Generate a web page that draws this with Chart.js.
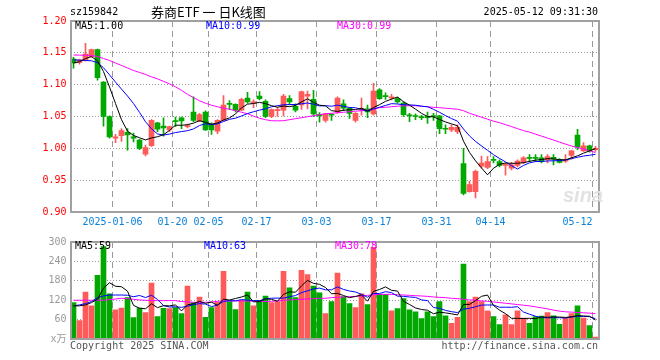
<!DOCTYPE html>
<html><head><meta charset="utf-8">
<script src="https://cdn.jsdelivr.net/npm/chart.js@4"></script>
<style>
html,body{margin:0;padding:0;background:#fff;}
#wrap{position:relative;width:660px;height:360px;overflow:hidden;font-family:"DejaVu Sans Mono",monospace;font-size:10px;background:#fff;}
canvas{position:absolute;left:0;}
.t{position:absolute;white-space:pre;line-height:12px;font-size:10px;}
</style></head><body>
<div id="wrap">
<canvas id="pc" width="660" height="232" style="top:0"></canvas>
<canvas id="vc" width="660" height="128" style="top:232px"></canvas>
<div class="t" style="left:70px;top:6px;color:#000">sz159842</div>
<div class="t" style="left:151px;top:4px;line-height:16px;font-size:13px;font-family:'Noto Sans CJK SC',sans-serif;color:#000">券商ETF 一 日K线图</div>
<div class="t" style="right:62px;top:6px;color:#000">2025-05-12 09:31:30</div>
<div class="t" id="l5" style="left:75px;top:20px;color:#000"></div>
<div class="t" id="l10" style="left:206px;top:20px;color:#0000ff"></div>
<div class="t" id="l30" style="left:337px;top:20px;color:#ff00ff"></div>
<div class="t" id="v5" style="left:75px;top:240px;color:#000"></div>
<div class="t" id="v10" style="left:204px;top:240px;color:#0000ff"></div>
<div class="t" id="v30" style="left:335px;top:240px;color:#ff00ff"></div>
<div class="t" style="left:563px;top:184px;line-height:20px;font:italic bold 20px 'Liberation Sans',sans-serif;color:#e2e2e2">sina</div>
<div class="t" style="left:70px;top:340px;color:#555">Copyright 2025 SINA.COM</div>
<div class="t" style="right:62px;top:340px;color:#555">http://finance.sina.com.cn</div>
</div>
<script>
const dates = ['2024-12-25','2024-12-26','2024-12-27','2024-12-30','2024-12-31','2025-01-02','2025-01-03','2025-01-06','2025-01-07','2025-01-08',
'2025-01-09','2025-01-10','2025-01-13','2025-01-14','2025-01-15','2025-01-16','2025-01-17','2025-01-20','2025-01-21','2025-01-22',
'2025-01-23','2025-01-24','2025-01-27','2025-02-05','2025-02-06','2025-02-07','2025-02-10','2025-02-11','2025-02-12','2025-02-13',
'2025-02-14','2025-02-17','2025-02-18','2025-02-19','2025-02-20','2025-02-21','2025-02-24','2025-02-25','2025-02-26','2025-02-27',
'2025-02-28','2025-03-03','2025-03-04','2025-03-05','2025-03-06','2025-03-07','2025-03-10','2025-03-11','2025-03-12','2025-03-13',
'2025-03-14','2025-03-17','2025-03-18','2025-03-19','2025-03-20','2025-03-21','2025-03-24','2025-03-25','2025-03-26','2025-03-27',
'2025-03-28','2025-03-31','2025-04-01','2025-04-02','2025-04-03','2025-04-07','2025-04-08','2025-04-09','2025-04-10','2025-04-11',
'2025-04-14','2025-04-15','2025-04-16','2025-04-17','2025-04-18','2025-04-21','2025-04-22','2025-04-23','2025-04-24','2025-04-25',
'2025-04-28','2025-04-29','2025-04-30','2025-05-06','2025-05-07','2025-05-08','2025-05-09','2025-05-12'];
const tickDates = ['2025-01-06','2025-01-20','2025-02-05','2025-02-17','2025-03-03','2025-03-17','2025-03-31','2025-04-14','2025-05-12'];
const tickText = ['2025-01-06','01-20','02-05','02-17','03-03','03-17','03-31','04-14','05-12     '];
const priceTicks = [0.90,0.95,1.00,1.05,1.10,1.15,1.20];
const volTicks = [0,60,120,180,240,300];
const volUnit = 'x万';

const opens = [1.140,1.135,1.139,1.144,1.155,1.104,1.050,1.016,1.020,1.025,
1.018,1.013,0.991,1.004,1.040,1.035,1.029,1.043,1.048,1.034,
1.057,1.043,1.057,1.037,1.027,1.044,1.070,1.069,1.060,1.079,
1.071,1.082,1.074,1.050,1.059,1.060,1.078,1.066,1.068,1.082,
1.077,1.053,1.044,1.053,1.057,1.070,1.063,1.044,1.060,1.062,
1.054,1.092,1.083,1.079,1.078,1.071,1.052,1.051,1.050,1.050,
1.051,1.051,1.031,1.029,1.026,0.976,0.932,0.932,0.972,0.970,
0.982,0.979,0.973,0.969,0.973,0.978,0.986,0.986,0.985,0.982,
0.986,0.982,0.980,0.989,1.021,0.996,1.004,0.998];
const highs = [1.143,1.140,1.165,1.156,1.156,1.105,1.051,1.022,1.031,1.031,
1.024,1.014,1.005,1.045,1.041,1.048,1.035,1.049,1.049,1.038,
1.081,1.055,1.059,1.040,1.045,1.083,1.075,1.070,1.079,1.088,
1.076,1.089,1.076,1.062,1.064,1.085,1.083,1.070,1.090,1.090,
1.091,1.056,1.055,1.054,1.081,1.076,1.064,1.056,1.079,1.068,
1.102,1.094,1.087,1.085,1.080,1.073,1.055,1.054,1.052,1.057,
1.055,1.052,1.037,1.037,1.037,1.000,0.948,0.966,0.988,0.987,
0.987,0.982,0.977,0.978,0.982,0.987,0.990,0.990,0.990,0.990,
0.990,0.984,0.990,0.997,1.030,1.009,1.005,1.003];
const lows = [1.126,1.132,1.137,1.143,1.107,1.035,1.016,1.009,1.011,0.997,
1.010,0.998,0.988,1.003,1.026,1.019,1.026,1.034,1.031,1.032,
1.042,1.042,1.028,1.022,1.023,1.043,1.061,1.057,1.059,1.071,
1.064,1.076,1.048,1.048,1.050,1.051,1.068,1.057,1.061,1.062,
1.050,1.041,1.041,1.044,1.055,1.059,1.047,1.041,1.052,1.048,
1.052,1.077,1.077,1.076,1.071,1.050,1.042,1.045,1.045,1.039,
1.044,1.023,1.023,1.026,1.023,0.927,0.931,0.922,0.969,0.968,
0.977,0.971,0.958,0.966,0.971,0.976,0.979,0.979,0.977,0.977,
0.974,0.977,0.978,0.983,0.998,0.995,0.994,0.995];
const closes = [1.134,1.139,1.148,1.155,1.111,1.050,1.018,1.018,1.028,1.021,
1.016,1.000,1.001,1.044,1.030,1.032,1.034,1.042,1.043,1.035,
1.044,1.053,1.029,1.029,1.044,1.068,1.069,1.060,1.077,1.073,
1.073,1.078,1.050,1.061,1.061,1.082,1.073,1.060,1.089,1.085,
1.054,1.051,1.054,1.052,1.079,1.063,1.055,1.055,1.063,1.057,
1.090,1.078,1.081,1.081,1.073,1.053,1.051,1.050,1.048,1.048,
1.050,1.031,1.030,1.033,1.033,0.929,0.943,0.964,0.977,0.979,
0.981,0.973,0.975,0.974,0.980,0.985,0.984,0.984,0.979,0.987,
0.983,0.978,0.982,0.996,1.002,1.004,0.996,1.000];
const ma5 = [1.134,1.136,1.141,1.144,1.1374,1.1206,1.0964,1.0704,1.045,1.027,
1.0202,1.0166,1.0132,1.0164,1.0182,1.0214,1.0282,1.0364,1.0362,1.0372,
1.0396,1.0434,1.0408,1.038,1.0398,1.0446,1.0478,1.054,1.0636,1.0694,
1.0704,1.0722,1.0702,1.067,1.0646,1.0664,1.0654,1.0674,1.073,1.0778,
1.0722,1.0678,1.0666,1.0592,1.058,1.0598,1.0606,1.0608,1.063,1.0586,
1.064,1.0686,1.0738,1.0774,1.0806,1.0732,1.0678,1.0616,1.055,1.05,
1.0494,1.0454,1.0414,1.0384,1.0354,1.0112,0.9936,0.9804,0.9692,0.9584,
0.9688,0.9748,0.977,0.9764,0.9766,0.9774,0.9796,0.9814,0.9824,0.9838,
0.9834,0.9822,0.9818,0.9852,0.9882,0.9924,0.996,0.9996];
const ma10 = [1.139,1.1384,1.138,1.1375,1.1345,1.1265,1.1155,1.104,1.093,1.0822,
1.0704,1.0565,1.0418,1.0307,1.0226,1.0208,1.0224,1.0248,1.0263,1.0277,
1.0305,1.0358,1.0386,1.0371,1.0385,1.0421,1.0456,1.0474,1.0508,1.0546,
1.0575,1.06,1.0621,1.0653,1.067,1.0684,1.0688,1.0688,1.07,1.0712,
1.0693,1.0666,1.067,1.0661,1.0679,1.066,1.0642,1.0637,1.0611,1.0583,
1.0619,1.0646,1.0673,1.0702,1.0696,1.0686,1.0682,1.0677,1.0662,1.0653,
1.0613,1.0566,1.0515,1.0467,1.0427,1.0303,1.0195,1.0109,1.0038,0.9969,
0.99,0.9842,0.9787,0.9728,0.9675,0.9731,0.9772,0.9792,0.9794,0.9802,
0.9804,0.9809,0.9816,0.9838,0.986,0.9879,0.9891,0.9907];
const ma30 = [1.1466,1.1464,1.1462,1.1458,1.1442,1.1411,1.138,1.134,1.1302,1.1262,
1.1223,1.1192,1.1161,1.1122,1.1091,1.1052,1.1013,1.0966,1.0911,1.0848,
1.0797,1.0747,1.0708,1.0677,1.0653,1.063,1.0614,1.0591,1.0567,1.0544,
1.0505,1.0473,1.045,1.0434,1.0431,1.0434,1.045,1.0466,1.0481,1.0497,
1.0513,1.0528,1.0544,1.055,1.0559,1.0567,1.0575,1.0583,1.0591,1.0598,
1.0614,1.0638,1.0645,1.0653,1.0661,1.0669,1.0669,1.0669,1.0661,1.0653,
1.0645,1.0638,1.063,1.0622,1.0614,1.0591,1.055,1.052,1.0489,1.0458,
1.0427,1.0403,1.0372,1.0341,1.0309,1.0278,1.0255,1.0223,1.0192,1.0161,
1.013,1.0098,1.0067,1.0036,1.0013,0.9989,0.9963,0.9934];
const volume = [112.6,56.7,145,102.5,197,285.5,140,90,96,128,
66,96,82,172.6,69,95,94,97,79,163.5,
112.6,130,67,97,113.7,209,115.7,91.3,119.8,145,
102.5,119.8,133,112.6,115.7,209,158,128,212,199,
163.5,143,79,115.7,204,131,109.6,97.4,140,106.5,
283.5,138,138,87,94.3,124.9,90,84,62.8,84,
69,115.7,72,48.6,66.9,231.6,115.7,130,115.7,87.2,
69,44.5,75,44.5,87.2,65,48.6,69,71,82,
72,45,63.8,79,102.5,65,41.5,6];
const vma5 = [102.5,102.5,105.5,112.6,122.8,157.3,174,163,161.7,147.9,
104,95.2,93.6,108.9,97.1,102.9,102.5,105.5,86.8,105.7,
109.2,116.4,110.4,114,104.1,123.3,120.5,125.3,129.9,136.2,
114.9,115.7,124,122.6,116.7,138,145.7,144.7,164.5,181.2,
172.1,169.1,159.3,140,141,134.5,127.9,131.5,136.4,116.9,
147.4,153.1,161.2,150.6,148.2,116.4,106.8,96,91.2,89.1,
78,83.1,80.7,77.9,74.4,107,107,118.6,132,136,
103.5,89.3,78.3,64,64,63.2,64.1,62.9,68.2,67.1,
68.5,67.8,66.8,68.4,72.5,71.1,70.4,58.8];
const vma10 = [102.5,105.5,109.6,115.7,127.9,133,136,136,136,135.3,
130.7,134.6,128.3,135.3,122.5,103.5,98.9,99.6,97.9,101.4,
106.1,109.5,108,100.4,104.9,116.3,118.5,117.9,122,120.1,
119.1,118.1,124.7,126.2,126.4,126.4,130.7,134.3,143.6,149,
155.1,157.4,152,152.3,161.1,153.3,148.5,145.4,138.2,129,
141,140.5,146.4,143.5,132.5,131.9,130,128.6,120.9,118.7,
97.2,95,88.4,84.5,81.8,92.5,95,99.6,104.9,105.2,
105.2,98.1,98.4,98,100,83.4,76.7,70.6,66.1,65.6,
65.9,65.9,64.8,68.3,69.8,69.8,69.1,62.8];
const vma30 = [119.8,119.8,119.8,119.8,119.8,119.8,121.8,123.8,125.9,124.8,
122.8,120.8,119.8,118.7,118.7,118.7,118.7,118.7,115.7,114.6,
113.6,112.6,113.6,114.6,116.6,117.7,117.7,117.7,117.7,117.7,
116.6,116.6,115.7,116.6,117.7,119.8,120.8,121.8,122.8,123.8,
124.8,125.9,125.9,127.9,128.9,129.9,131,131.9,133,135,
137,138,138,138,137,136,135,134,133,131.9,
129.9,128.9,127.9,125.9,124.8,122.8,120.8,119.8,117.7,116.6,
114.6,112.6,110.6,108.6,106.5,104.5,102.5,99.4,96.4,93.3,
89.3,86.2,84.1,83.1,82.1,81.1,80.1,78.1];

const RED = '#ff5a5a', GREEN = '#00a800';
const colors = closes.map((c,i) => c >= opens[i] ? RED : GREEN);
const tickIdx = tickDates.map(d => dates.indexOf(d));
const MONO = "'DejaVu Sans Mono', monospace";
const GRIDV = '#999999';
const GRIDH = '#999999';

const last = a => a[a.length-1];
document.getElementById('l5').textContent = 'MA5:' + last(ma5).toFixed(2);
document.getElementById('l10').textContent = 'MA10:' + last(ma10).toFixed(2);
document.getElementById('l30').textContent = 'MA30:' + last(ma30).toFixed(2);
document.getElementById('v5').textContent = 'MA5:' + Math.round(last(vma5));
document.getElementById('v10').textContent = 'MA10:' + Math.round(last(vma10));
document.getElementById('v30').textContent = 'MA30:' + Math.round(last(vma30));

// grid from the chart's own scales (dashed date lines, dotted value lines),
// painted behind the marks, then the panel frame
const kgrid = {
  id: 'kgrid',
  afterDraw(chart) {
    const ctx = chart.ctx, a = chart.chartArea;
    const xs = chart.scales.x, ys = chart.scales.y;
    const top = Math.round(a.top), bottom = Math.round(a.bottom);
    const left = Math.round(a.left), right = Math.round(a.right);
    ctx.save();
    ctx.globalCompositeOperation = 'destination-over';
    const half = (xs.getPixelForValue(1) - xs.getPixelForValue(0)) / 2;
    ctx.fillStyle = GRIDV;
    tickIdx.forEach(i => {
      const px = Math.floor(xs.getPixelForValue(i) - half);
      for (let yy = top; yy < bottom; yy += 10) ctx.fillRect(px, yy, 1, Math.min(6, bottom - yy));
    });
    ctx.fillStyle = GRIDH;
    ys.ticks.forEach(t => {
      const v = t.value;
      if (v <= ys.min + 1e-9 || v >= ys.max - 1e-9) return;
      const py = Math.floor(ys.getPixelForValue(v));
      for (let xx = left; xx < right; xx += 3) ctx.fillRect(xx, py, 1, 1);
    });
    ctx.globalCompositeOperation = 'source-over';
    ctx.strokeStyle = '#a0a0a0';
    ctx.lineWidth = 2;
    ctx.strokeRect(left, top, right - left, bottom - top);
    ctx.restore();
  }
};

const lineDs = (data, color) => ({type:'line', data, borderColor: color, borderWidth: 1, pointRadius: 0, tension: 0, order: 0, fill: false});

function xScale(showLabels) {
  return {
    type: 'category', offset: true,
    grid: {display: false, offset: true, drawTicks: false},
    border: {display: false},
    ticks: {display: showLabels, autoSkip: false, maxRotation: 0, minRotation: 0, padding: 4, labelOffset: -3,
      color: '#0a80d8', font: {family: MONO, size: 10},
      callback: (v, i) => { const k = tickDates.indexOf(dates[i]); return k >= 0 ? tickText[k] : ''; }},
    afterFit: s => { s.height = showLabels ? 20 : 0; }
  };
}

new Chart(document.getElementById('pc'), {
  type: 'bar',
  data: {
    labels: dates,
    datasets: [
      lineDs(ma5, '#000000'),
      lineDs(ma10, '#0000ff'),
      lineDs(ma30, '#ff00ff'),
      {data: opens.map((o,i) => [o, closes[i]]), backgroundColor: colors, barThickness: 5, grouped: false, minBarLength: 1, borderWidth: 0, order: 1},
      {data: lows.map((l,i) => [l, highs[i]]), backgroundColor: colors, barThickness: 1, grouped: false, borderWidth: 0, order: 2}
    ]
  },
  options: {
    responsive: false, animation: false, events: [],
    layout: {padding: {left: 0, right: 61.5, top: 21, bottom: 0}},
    plugins: {legend: {display: false}, tooltip: {enabled: false}},
    scales: {
      x: xScale(true),
      y: {
        min: priceTicks[0], max: last(priceTicks),
        afterBuildTicks: s => { s.ticks = priceTicks.map(v => ({value: v})); },
        grid: {display: false, drawTicks: false},
        border: {display: false},
        ticks: {padding: 4, color: '#ff0000', font: {family: MONO, size: 10}, callback: v => Number(v).toFixed(2)},
        afterFit: s => { s.width = 70.5; }
      }
    }
  },
  plugins: [kgrid]
});

new Chart(document.getElementById('vc'), {
  type: 'bar',
  data: {
    labels: dates,
    datasets: [
      lineDs(vma5, '#000000'),
      lineDs(vma10, '#0000ff'),
      lineDs(vma30, '#ff00ff'),
      {data: volume, backgroundColor: colors, barThickness: 5, borderWidth: 0, order: 1}
    ]
  },
  options: {
    responsive: false, animation: false, events: [],
    layout: {padding: {left: 0, right: 61.5, top: 8, bottom: 21}},
    plugins: {legend: {display: false}, tooltip: {enabled: false}},
    scales: {
      x: xScale(false),
      y: {
        min: volTicks[0], max: last(volTicks),
        afterBuildTicks: s => { s.ticks = volTicks.map(v => ({value: v})); },
        grid: {display: false, drawTicks: false},
        border: {display: false},
        ticks: {padding: 4, color: '#999999', font: {family: MONO + ", 'Noto Sans CJK SC'", size: 10},
          callback: v => v === 0 ? volUnit : String(v)},
        afterFit: s => { s.width = 70.5; }
      }
    }
  },
  plugins: [kgrid]
});
</script>
</body></html>
